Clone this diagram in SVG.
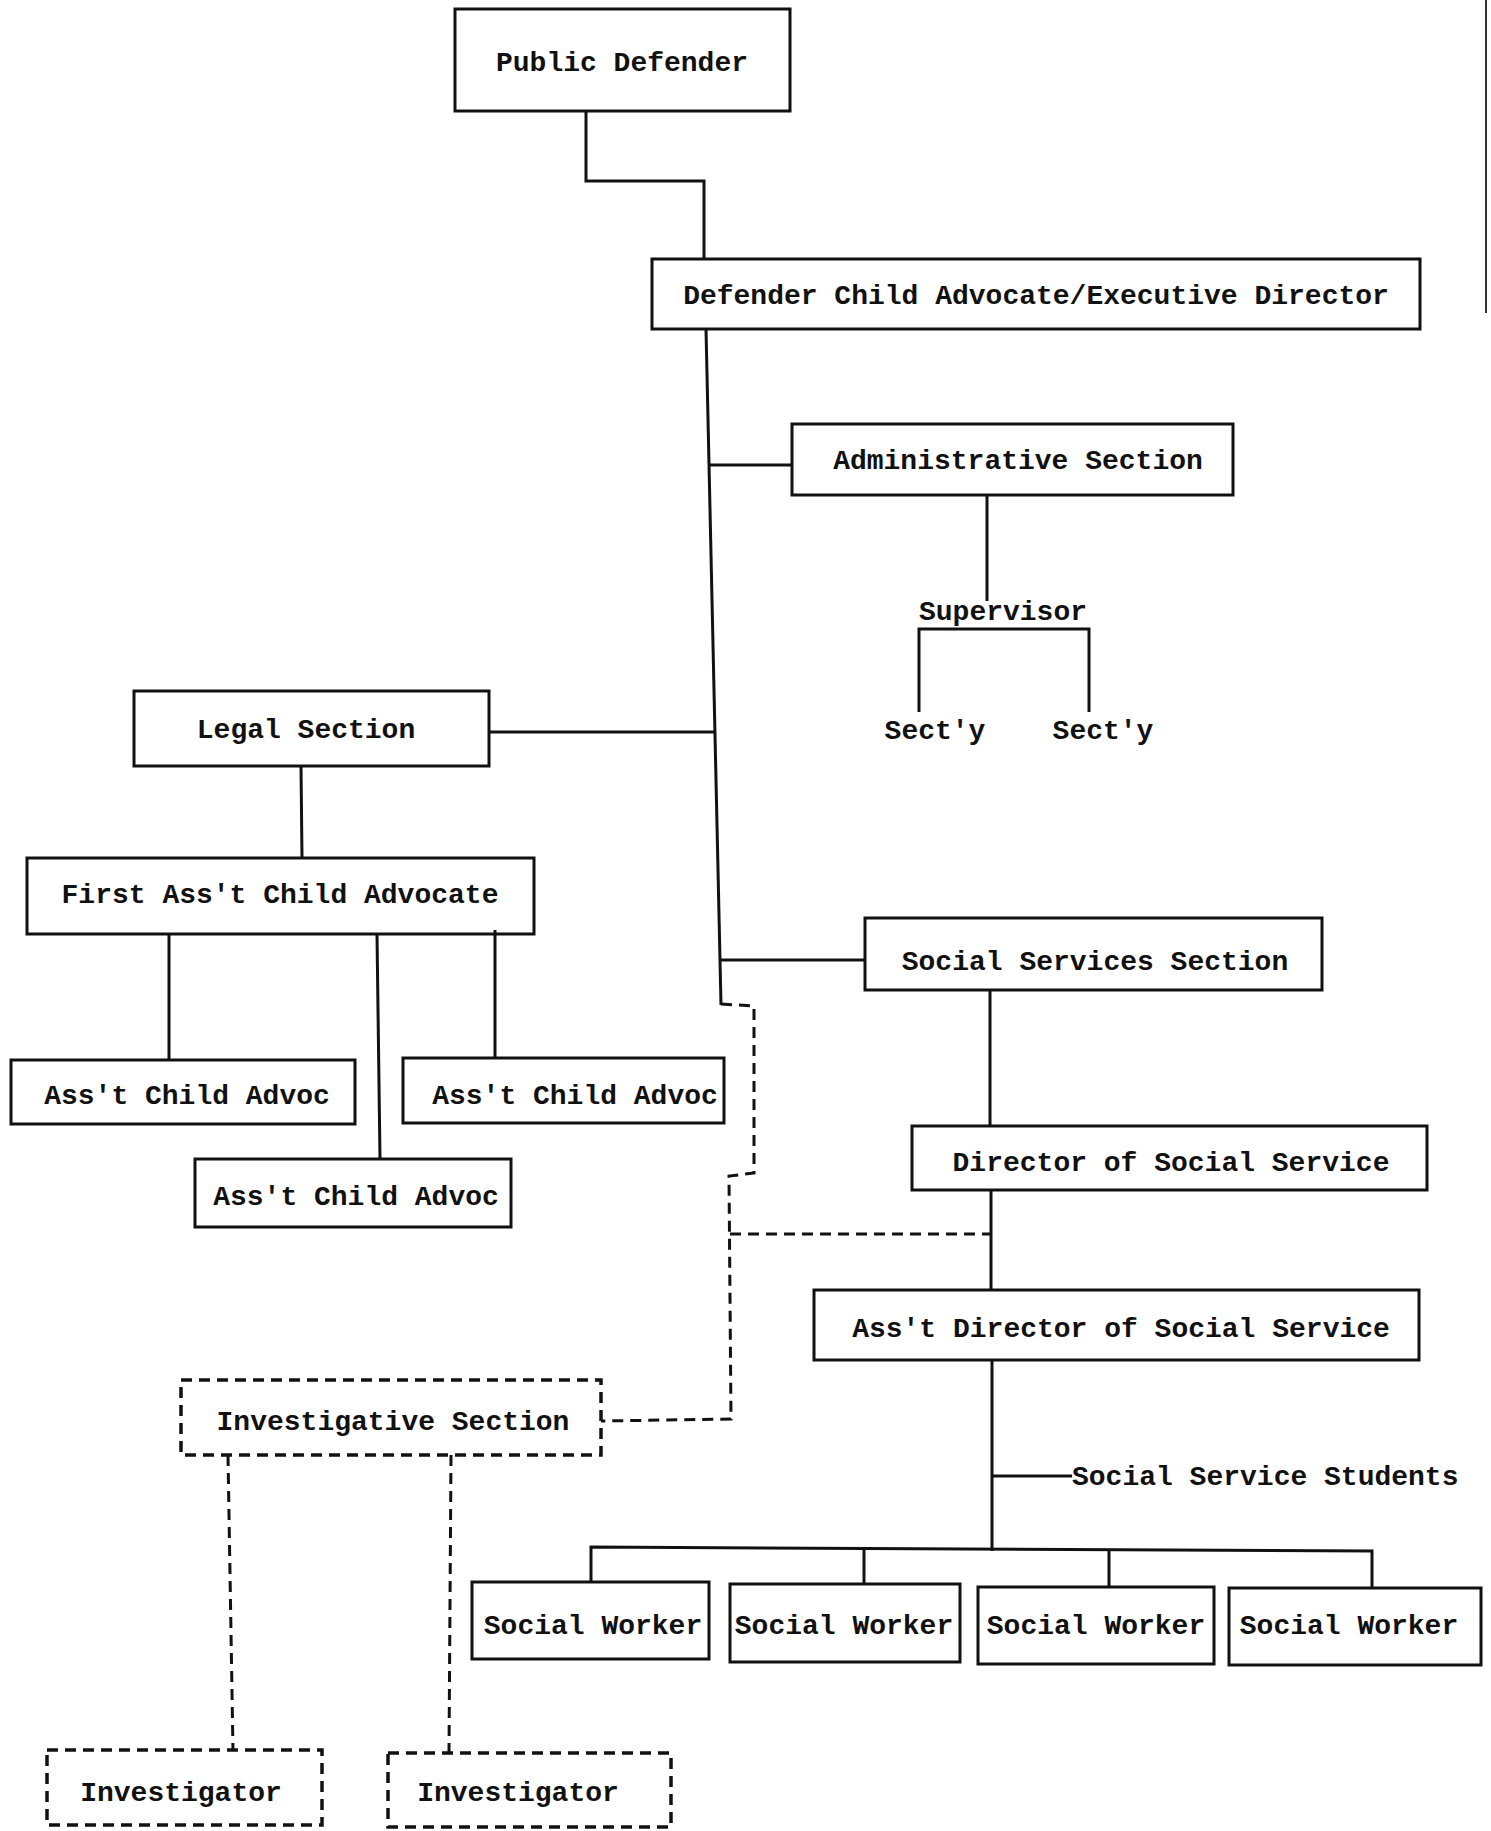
<svg xmlns="http://www.w3.org/2000/svg" width="1491" height="1831" viewBox="0 0 1491 1831">
<style>
.box{fill:none;stroke:#111;stroke-width:3}
.dbox{fill:none;stroke:#111;stroke-width:3.5;stroke-dasharray:11 7}
.ln{fill:none;stroke:#111;stroke-width:3}
.dl{fill:none;stroke:#111;stroke-width:3;stroke-dasharray:11 7}
text{font-family:"Liberation Mono","Courier New",monospace;font-size:28px;font-weight:bold;fill:#111}
.c{text-anchor:middle}
</style>
<rect width="1491" height="1831" fill="#fff"/>
<g id="connectors">
<polyline class="ln" points="586,111 586,181 704,181 704,259"/>
<line class="ln" x1="706" y1="329" x2="721" y2="1005"/>
<line class="ln" x1="710" y1="465" x2="792" y2="465"/>
<line class="ln" x1="489" y1="732" x2="716" y2="732"/>
<line class="ln" x1="720" y1="960" x2="865" y2="960"/>
<line class="ln" x1="301" y1="766" x2="302" y2="858"/>
<line class="ln" x1="169" y1="934" x2="169" y2="1060"/>
<line class="ln" x1="377" y1="934" x2="380" y2="1159"/>
<line class="ln" x1="495" y1="930" x2="495" y2="1058"/>
<line class="ln" x1="987" y1="495" x2="987" y2="601"/>
<polyline class="ln" points="919,712 919,629 1089,629 1089,712"/>
<line class="ln" x1="990" y1="990" x2="990" y2="1126"/>
<line class="ln" x1="991" y1="1190" x2="991" y2="1290"/>
<line class="ln" x1="992" y1="1360" x2="992" y2="1551"/>
<line class="ln" x1="992" y1="1476" x2="1072" y2="1476"/>
<polyline class="ln" points="591,1583 591,1547 1372,1551 1372,1588"/>
<line class="ln" x1="864" y1="1548" x2="864" y2="1584"/>
<line class="ln" x1="1109" y1="1550" x2="1109" y2="1587"/>
<polyline class="dl" points="721,1004 754,1006 754,1173 729,1176 731,1419 601,1421"/>
<line class="dl" x1="730" y1="1234" x2="991" y2="1234"/>
<line class="dl" x1="228" y1="1455" x2="233" y2="1751"/>
<line class="dl" x1="451" y1="1455" x2="449" y2="1753"/>
<line x1="1486" y1="0" x2="1486" y2="313" stroke="#333" stroke-width="2"/>
</g>
<g id="public-defender"><rect class="box" x="455" y="9" width="335" height="102"/><text class="c" x="622" y="71">Public Defender</text></g>
<g id="executive-director"><rect class="box" x="652" y="259" width="768" height="70"/><text class="c" x="1036" y="304">Defender Child Advocate/Executive Director</text></g>
<g id="administrative-section"><rect class="box" x="792" y="424" width="441" height="71"/><text class="c" x="1018" y="469">Administrative Section</text></g>
<g id="supervisor"><text class="c" x="1003" y="620">Supervisor</text></g>
<g id="secty-1"><text class="c" x="935" y="739">Sect'y</text></g>
<g id="secty-2"><text class="c" x="1103" y="739">Sect'y</text></g>
<g id="legal-section"><rect class="box" x="134" y="691" width="355" height="75"/><text class="c" x="306" y="738">Legal Section</text></g>
<g id="first-asst"><rect class="box" x="27" y="858" width="507" height="76"/><text class="c" x="280" y="903">First Ass't Child Advocate</text></g>
<g id="asst-1"><rect class="box" x="11" y="1060" width="344" height="64"/><text class="c" x="187" y="1104">Ass't Child Advoc</text></g>
<g id="asst-2"><rect class="box" x="403" y="1058" width="321" height="65"/><text class="c" x="575" y="1104">Ass't Child Advoc</text></g>
<g id="asst-3"><rect class="box" x="195" y="1159" width="316" height="68"/><text class="c" x="356" y="1205">Ass't Child Advoc</text></g>
<g id="social-services-section"><rect class="box" x="865" y="918" width="457" height="72"/><text class="c" x="1095" y="970">Social Services Section</text></g>
<g id="director-social"><rect class="box" x="912" y="1126" width="515" height="64"/><text class="c" x="1171" y="1171">Director of Social Service</text></g>
<g id="asst-director-social"><rect class="box" x="814" y="1290" width="605" height="70"/><text class="c" x="1121" y="1337">Ass't Director of Social Service</text></g>
<g id="social-service-students"><text x="1072" y="1485">Social Service Students</text></g>
<g id="sw-1"><rect class="box" x="472" y="1582" width="237" height="77"/><text class="c" x="593" y="1634">Social Worker</text></g>
<g id="sw-2"><rect class="box" x="730" y="1584" width="230" height="78"/><text class="c" x="844" y="1634">Social Worker</text></g>
<g id="sw-3"><rect class="box" x="978" y="1587" width="236" height="77"/><text class="c" x="1096" y="1634">Social Worker</text></g>
<g id="sw-4"><rect class="box" x="1229" y="1588" width="252" height="77"/><text class="c" x="1349" y="1634">Social Worker</text></g>
<g id="investigative-section"><rect class="dbox" x="181" y="1380" width="420" height="75"/><text class="c" x="393" y="1430">Investigative Section</text></g>
<g id="investigator-1"><rect class="dbox" x="47" y="1750" width="275" height="75"/><text class="c" x="181" y="1801">Investigator</text></g>
<g id="investigator-2"><rect class="dbox" x="388" y="1753" width="283" height="74"/><text class="c" x="518" y="1801">Investigator</text></g>
</svg>
